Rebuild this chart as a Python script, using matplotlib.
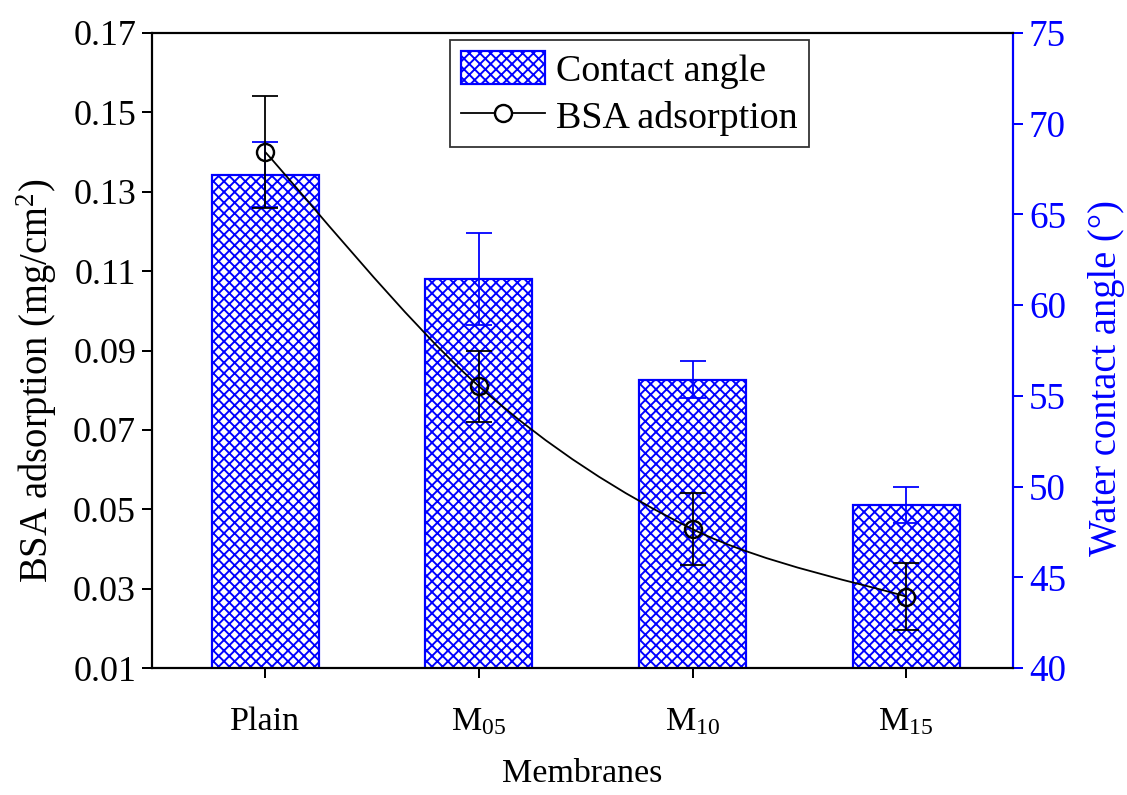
import numpy as np
import matplotlib
matplotlib.use("Agg")
import matplotlib.pyplot as plt
from matplotlib.path import Path
from matplotlib.patches import PathPatch, Patch
from matplotlib.lines import Line2D

DPI = 128          # hatch cell size follows the dpi
K = 72.0 / DPI     # pixels -> points

plt.rcParams["font.family"] = ["Liberation Serif", "DejaVu Serif"]
plt.rcParams["mathtext.fontset"] = "custom"
plt.rcParams["mathtext.rm"] = "Liberation Serif"
plt.rcParams["mathtext.it"] = "Liberation Serif:italic"
plt.rcParams["hatch.linewidth"] = 1.9 * K
plt.rcParams["hatch.color"] = "#0000ff"

# ---- data ----
membranes = ["Plain", r"M$_{05}$", r"M$_{10}$", r"M$_{15}$"]
contact_angle = [67.2, 61.45, 55.9, 49.0]
contact_angle_err = [1.8, 2.55, 1.0, 1.0]
bsa = [0.140, 0.081, 0.045, 0.028]
bsa_err = [0.014, 0.009, 0.009, 0.0085]

x = np.arange(1, len(membranes) + 1)
blue = "#0000ff"
lw = 1.8 * K
hatch = "xxxx"

fig = plt.figure(figsize=(1127 / DPI, 795 / DPI), dpi=DPI)
ax = fig.add_axes([0.1349, 0.1597, 0.7639, 0.7988])
ax2 = ax.twinx()

# bars (contact angle) on the right axis, drawn underneath the line axis
ax.set_zorder(ax2.get_zorder() + 1)
ax.patch.set_visible(False)

ax2.bar(x, contact_angle, width=0.5, color="white", edgecolor=blue,
        hatch=hatch, linewidth=2.2 * K, zorder=2)
ax2.errorbar(x, contact_angle, yerr=contact_angle_err, fmt="none",
             ecolor=blue, elinewidth=lw, capsize=13 * K, capthick=lw,
             zorder=3)

# smooth connector through BSA points (Catmull-Rom as cubic Bezier)
pts = np.column_stack([x, bsa]).astype(float)
padded = np.vstack([pts[0], pts, pts[-1]])
verts = [tuple(pts[0])]
codes = [Path.MOVETO]
for i in range(len(pts) - 1):
    p0, p1, p2, p3 = padded[i], padded[i + 1], padded[i + 2], padded[i + 3]
    c1 = p1 + (p2 - p0) / 6.0
    c2 = p2 - (p3 - p1) / 6.0
    verts += [tuple(c1), tuple(c2), tuple(p2)]
    codes += [Path.CURVE4] * 3
ax.add_patch(PathPatch(Path(verts, codes), facecolor="none",
                       edgecolor="black", linewidth=lw, zorder=3))

ax.errorbar(x, bsa, yerr=bsa_err, fmt="none", ecolor="black",
            elinewidth=lw, capsize=13 * K, capthick=lw, zorder=4)
ax.plot(x, bsa, linestyle="none", marker="o", markersize=17 * K,
        markerfacecolor="none", markeredgecolor="black",
        markeredgewidth=2.4 * K, zorder=5)

# ---- axes ----
ax.set_xlim(0.47, 4.5)
ax.set_ylim(0.01, 0.17)
yt = np.arange(0.01, 0.171, 0.02)
ax.set_yticks(yt)
ax.set_yticklabels([f"{v:.2f}" for v in yt])
ax.set_xticks(x)
ax.set_xticklabels(membranes, fontsize=34 * K)
ax2.set_ylim(40, 75)
ax2.set_yticks(np.arange(40, 76, 5))

ax.tick_params(axis="y", direction="out", length=10 * K, width=2 * K,
               labelsize=36 * K, colors="black", pad=6 * K)
ax.tick_params(axis="x", direction="out", length=10 * K, width=2 * K,
               colors="black", pad=28 * K)
ax2.tick_params(axis="y", direction="out", length=10 * K, width=2 * K,
                labelsize=37 * K, colors=blue, pad=6 * K)

for s in ["left", "bottom", "top"]:
    ax.spines[s].set_linewidth(2.2 * K)
ax.spines["right"].set_visible(False)
for s in ["left", "bottom", "top"]:
    ax2.spines[s].set_visible(False)
ax2.spines["right"].set_linewidth(2.2 * K)
ax2.spines["right"].set_color(blue)

ax.set_xlabel("Membranes", fontsize=34 * K, labelpad=22 * K)
ax.set_ylabel("BSA adsorption (mg/cm$^2$)", fontsize=38.5 * K)
ax.yaxis.set_label_coords(-0.108, 0.452)
ax2.set_ylabel("Water contact angle (°)", fontsize=38.5 * K, color=blue)
ax2.yaxis.set_label_coords(1.087, 0.456)

# ---- legend ----
handles = [
    Patch(facecolor="white", edgecolor=blue, hatch=hatch, linewidth=2.2 * K),
    Line2D([], [], color="black", linewidth=lw, marker="o",
           markersize=17 * K, markerfacecolor="white",
           markeredgecolor="black", markeredgewidth=2.4 * K),
]
leg = ax.legend(handles, ["Contact angle", "BSA adsorption"],
                loc="upper left", bbox_to_anchor=(0.399, 0.950),
                bbox_transform=fig.transFigure, fontsize=38 * K,
                frameon=True, fancybox=False, handlelength=2.2,
                handleheight=0.95, borderpad=0.3, labelspacing=0.25,
                handletextpad=0.3, borderaxespad=0)
leg.get_frame().set_edgecolor("black")
leg.get_frame().set_linewidth(1.8 * K)

fig.savefig("out.png", dpi=DPI)
